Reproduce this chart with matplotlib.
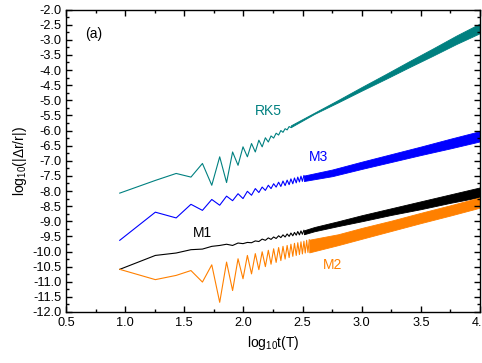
import matplotlib
matplotlib.use("Agg")
import matplotlib.pyplot as plt
from matplotlib.ticker import MultipleLocator, FormatStrFormatter

plt.rcParams["font.family"] = ["Liberation Sans", "DejaVu Sans"]
plt.rcParams["mathtext.default"] = "regular"

# log10(T) of the first sampled times, where every point is drawn separately
zig_x = [0.954, 1.255, 1.431, 1.556, 1.653, 1.732, 1.799, 1.857, 1.908, 1.954,
         1.996, 2.033, 2.068, 2.100, 2.130, 2.158, 2.185, 2.210, 2.233, 2.255,
         2.276, 2.297, 2.316, 2.334, 2.352, 2.369, 2.386, 2.401, 2.417, 2.431,
         2.446, 2.459, 2.473, 2.486, 2.498, 2.511, 2.522, 2.534, 2.545, 2.556]

rk5_y = [-8.07, -7.65, -7.42, -7.54, -7.09, -7.81, -6.87, -7.72, -6.71, -7.15,
         -6.54, -6.87, -6.43, -6.71, -6.32, -6.54, -6.24, -6.38, -6.18, -6.25,
         -6.09, -6.15, -6.00, -6.06, -5.94, -5.98, -5.87, -5.90]
m3_y = [-9.63, -8.70, -8.89, -8.44, -8.64, -8.28, -8.47, -8.17, -8.32, -8.09,
        -8.25, -8.01, -8.14, -7.92, -8.05, -7.87, -7.98, -7.81, -7.92, -7.76,
        -7.87, -7.71, -7.85, -7.67, -7.82, -7.64, -7.79, -7.60, -7.76, -7.57,
        -7.73, -7.54, -7.70, -7.51, -7.68, -7.49]
m1_y = [-10.59, -10.13, -10.05, -9.94, -9.92, -9.83, -9.80, -9.76, -9.80, -9.72,
        -9.74, -9.70, -9.71, -9.65, -9.67, -9.59, -9.63, -9.55, -9.60, -9.52,
        -9.57, -9.48, -9.54, -9.45, -9.52, -9.42, -9.50, -9.39, -9.48, -9.37,
        -9.46, -9.34, -9.45, -9.32, -9.43, -9.30]
m2_y = [-10.59, -10.93, -10.79, -10.63, -11.01, -10.44, -11.68, -10.35, -11.29, -10.24,
        -10.90, -10.13, -10.74, -10.07, -10.60, -10.01, -10.50, -9.96, -10.42, -9.91,
        -10.36, -9.87, -10.30, -9.83, -10.25, -9.80, -10.20, -9.76, -10.16, -9.73,
        -10.13, -9.71, -10.10, -9.68, -10.08, -9.66, -10.05, -9.63, -10.03, -9.61]

# dense part: oscillation too fine to resolve, read as upper/lower envelope
rk5_bx = [2.40, 2.60, 2.80, 3.00, 3.20, 3.40, 3.60, 3.80, 4.00]
rk5_hi = [-5.83, -5.41, -4.99, -4.56, -4.14, -3.71, -3.29, -2.86, -2.46]
rk5_lo = [-5.89, -5.45, -5.07, -4.68, -4.30, -3.91, -3.53, -3.14, -2.78]

m3_bx = [2.511, 2.75, 3.00, 3.25, 3.50, 3.75, 4.00]
m3_hi = [-7.49, -7.29, -7.03, -6.78, -6.53, -6.27, -6.02]
m3_lo = [-7.67, -7.51, -7.27, -7.04, -6.81, -6.59, -6.36]

m1_bx = [2.511, 2.60, 2.80, 3.00, 3.25, 3.50, 3.75, 4.00]
m1_hi = [-9.30, -9.19, -9.00, -8.80, -8.57, -8.34, -8.11, -7.88]
m1_lo = [-9.43, -9.33, -9.16, -9.00, -8.79, -8.60, -8.39, -8.20]

m2_bx = [2.556, 2.80, 3.00, 3.25, 3.50, 3.75, 4.00]
m2_hi = [-9.61, -9.43, -9.22, -8.98, -8.72, -8.47, -8.21]
m2_lo = [-10.03, -9.79, -9.58, -9.32, -9.06, -8.81, -8.55]

teal = "#008080"
blue = "#0000ff"
orange = "#ff8000"

fig = plt.figure(figsize=(4.82, 3.63), dpi=100)
ax = fig.add_axes([0.137, 0.1405, 0.859, 0.8333])

series = [
    (rk5_y, rk5_bx, rk5_hi, rk5_lo, teal),
    (m3_y, m3_bx, m3_hi, m3_lo, blue),
    (m1_y, m1_bx, m1_hi, m1_lo, "black"),
    (m2_y, m2_bx, m2_hi, m2_lo, orange),
]
for y, bx, hi, lo, c in series:
    ax.plot(zig_x[:len(y)], y, color=c, lw=0.8)
    ax.fill_between(bx, lo, hi, color=c, lw=0.6, edgecolor=c)

ax.text(2.214, -5.36, "RK5", color=teal, fontsize=10, ha="center", va="center")
ax.text(2.63, -6.88, "M3", color=blue, fontsize=10, ha="center", va="center")
ax.text(1.65, -9.39, "M1", color="black", fontsize=10, ha="center", va="center")
ax.text(2.753, -10.43, "M2", color=orange, fontsize=10, ha="center", va="center")
ax.text(0.735, -2.81, "(a)", fontsize=10, ha="center", va="center")

ax.set_xlim(0.5, 4.0)
ax.set_ylim(-12.0, -2.0)
ax.xaxis.set_major_locator(MultipleLocator(0.5))
ax.xaxis.set_minor_locator(MultipleLocator(0.25))
ax.yaxis.set_major_locator(MultipleLocator(0.5))
ax.yaxis.set_minor_locator(MultipleLocator(0.25))
ax.xaxis.set_major_formatter(FormatStrFormatter("%.1f"))
ax.yaxis.set_major_formatter(FormatStrFormatter("%.1f"))
ax.tick_params(which="both", direction="in", top=True, right=True, labelsize=9.2, width=1.0)
ax.tick_params(which="major", length=4)
ax.tick_params(which="minor", length=2.5)
for s in ax.spines.values():
    s.set_linewidth(1.0)

ax.set_xlabel("log$_{10}$t(T)", fontsize=10, labelpad=4)
ax.set_ylabel("log$_{10}$(|Δr/r|)", fontsize=10, labelpad=2)

fig.savefig("out.png", dpi=100)
